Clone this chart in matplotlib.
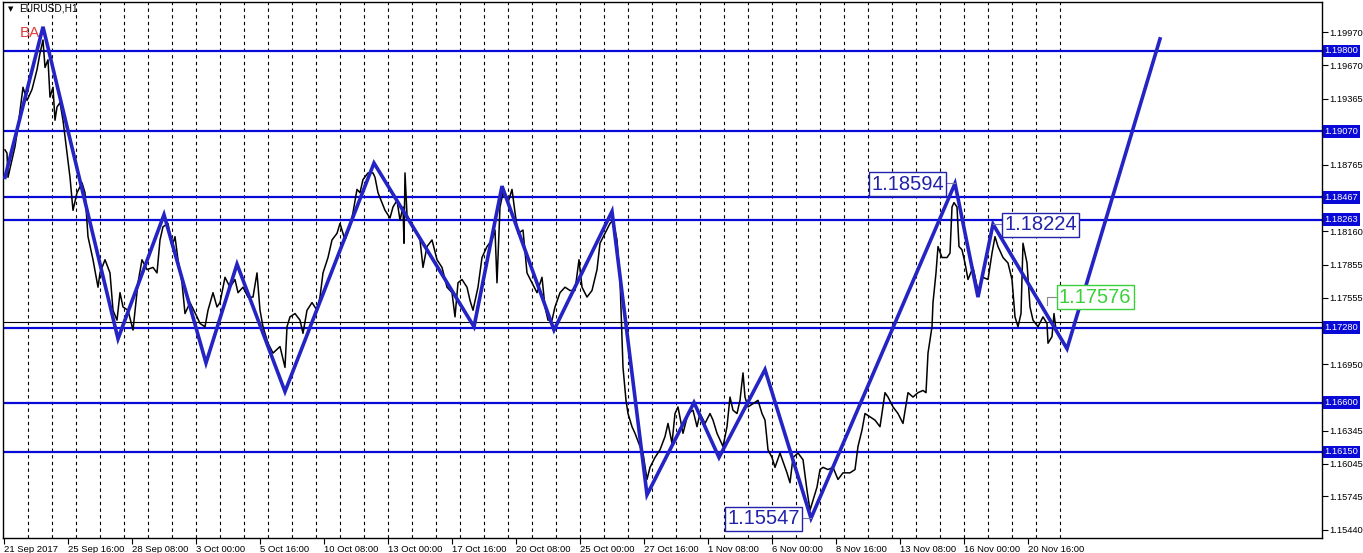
import matplotlib
matplotlib.use("Agg")
import matplotlib.pyplot as plt
import matplotlib.transforms as mtransforms

# ---------------------------------------------------------------------------
# data (x = hourly bar index from 21 Sep 2017)
# ---------------------------------------------------------------------------
price_bars = [
    1, 3, 4, 11, 14, 19, 23, 28, 33, 36, 39, 41, 44, 46, 49, 51, 53, 56, 59, 63,
    66, 69, 73, 78, 81, 84, 89, 94, 96, 101, 106, 109, 113, 116, 119, 124, 129, 134, 138, 143,
    149, 153, 156, 159, 164, 168, 171, 174, 178, 181, 186, 193, 196, 201, 204, 209, 213, 216, 221, 226,
    231, 234, 239, 244, 249, 253, 256,
    259, 264, 269, 276, 281, 283, 286, 291, 296, 299, 303, 308, 313, 316, 319, 324, 328, 333, 336, 341,
    346, 349, 353, 356, 359, 364, 369, 371, 374, 378, 381, 386, 389, 393, 396, 399, 400, 401, 403, 408,
    411, 416, 419, 423, 428, 433, 438, 443, 448, 451, 454, 458, 463, 466, 469, 474, 478, 483, 488, 491,
    493, 496, 499, 504, 508, 511, 514, 519, 523, 528, 533, 538, 541, 544,
    548, 551, 556, 561, 566, 571, 575, 578, 583, 588, 593, 596, 601, 606, 609, 613, 616, 618, 619, 622,
    624, 628, 631, 636, 639, 643, 646, 651, 656, 661, 664, 668, 671, 674, 679, 684, 689, 693, 696, 701,
    706, 709, 713, 716, 719, 723, 726, 729, 733, 736, 739, 741, 744, 749, 754, 758, 761, 764, 768, 771,
    776, 783, 786, 789, 794, 799,
    803, 806, 809, 813, 816, 819, 824, 829, 834, 839, 846, 851, 854, 858, 861, 866, 871, 876, 881, 884,
    889, 894, 899, 904, 909, 914, 919, 922, 924, 928, 929, 932, 934, 938, 943, 946, 948, 950, 953, 955,
    958, 961, 964, 969, 974, 979, 984, 988, 991, 994, 999, 1004, 1008, 1011, 1014, 1017, 1019, 1023, 1026, 1029,
    1034, 1039, 1043, 1044, 1048, 1050, 1052,
]
price_close = [
    1.1890, 1.1887, 1.1865, 1.1893, 1.1911, 1.1947, 1.1935, 1.1945, 1.1963, 1.1978, 1.1990, 1.1965, 1.1972, 1.1938, 1.1947, 1.1917, 1.1929, 1.1933, 1.1917, 1.1887,
    1.1865, 1.1835, 1.1851, 1.1860, 1.1851, 1.1811, 1.1790, 1.1765, 1.1778, 1.1790, 1.1778, 1.1744, 1.1735, 1.1760, 1.1747, 1.1744, 1.1726, 1.1769, 1.1790, 1.1781,
    1.1783, 1.1778, 1.1808, 1.1820, 1.1823, 1.1802, 1.1811, 1.1790, 1.1769, 1.1741, 1.1751, 1.1738, 1.1732, 1.1729, 1.1744, 1.1760, 1.1747, 1.1751, 1.1774, 1.1765,
    1.1772, 1.1760, 1.1765, 1.1756, 1.1756, 1.1778, 1.1744,
    1.1729, 1.1714, 1.1705, 1.1711, 1.1692, 1.1729, 1.1738, 1.1741, 1.1735, 1.1723, 1.1744, 1.1751, 1.1744, 1.1756, 1.1778, 1.1792, 1.1808, 1.1814, 1.1823, 1.1808,
    1.1820, 1.1833, 1.1854, 1.1851, 1.1863, 1.1869, 1.1869, 1.1865, 1.1851, 1.1842, 1.1835, 1.1828, 1.1838, 1.1844, 1.1826, 1.1838, 1.1805, 1.1869, 1.1831, 1.1820,
    1.1817, 1.1808, 1.1783, 1.1802, 1.1808, 1.1790, 1.1783, 1.1765, 1.1760, 1.1738, 1.1769, 1.1772, 1.1765, 1.1753, 1.1744, 1.1765, 1.1792, 1.1802, 1.1808, 1.1817,
    1.1769, 1.1838, 1.1851, 1.1842, 1.1854, 1.1833, 1.1814, 1.1817, 1.1778, 1.1769, 1.1760, 1.1774, 1.1747, 1.1735,
    1.1735, 1.1747, 1.1760, 1.1765, 1.1762, 1.1762, 1.1790, 1.1765, 1.1756, 1.1762, 1.1781, 1.1805, 1.1814, 1.1823, 1.1826, 1.1808, 1.1772, 1.1717, 1.1692, 1.1662,
    1.1650, 1.1638, 1.1632, 1.1620, 1.1614, 1.1590, 1.1601, 1.1610, 1.1617, 1.1629, 1.1641, 1.1623, 1.1650, 1.1656, 1.1632, 1.1650, 1.1653, 1.1638, 1.1650, 1.1641,
    1.1650, 1.1644, 1.1632, 1.1626, 1.1620, 1.1638, 1.1665, 1.1653, 1.1650, 1.1662, 1.1687, 1.1665, 1.1656, 1.1659, 1.1662, 1.1650, 1.1644, 1.1617, 1.1610, 1.1601,
    1.1614, 1.1596, 1.1587, 1.1610, 1.1614, 1.1608,
    1.1580, 1.1562, 1.1571, 1.1583, 1.1599, 1.1601, 1.1599, 1.1601, 1.1590, 1.1596, 1.1596, 1.1599, 1.1620, 1.1635, 1.1650, 1.1647, 1.1644, 1.1638, 1.1669, 1.1665,
    1.1656, 1.1650, 1.1641, 1.1669, 1.1665, 1.1669, 1.1671, 1.1669, 1.1705, 1.1729, 1.1751, 1.1778, 1.1802, 1.1792, 1.1792, 1.1796, 1.1838, 1.1842, 1.1838, 1.1802,
    1.1799, 1.1787, 1.1772, 1.1783, 1.1762, 1.1774, 1.1772, 1.1796, 1.1811, 1.1802, 1.1792, 1.1787, 1.1772, 1.1738, 1.1729, 1.1741, 1.1805, 1.1787, 1.1747, 1.1735,
    1.1729, 1.1738, 1.1732, 1.1714, 1.1720, 1.1741, 1.1726,
]

# hand-drawn zigzag (last leg is the projection)
zigzag_bars = [1, 39, 114, 160, 202, 233, 281, 370, 470, 498, 550, 608, 643, 690, 715,
               761, 807, 951, 974, 989, 1063, 1156]
zigzag_price = [1.1865, 1.2002, 1.1718, 1.1831, 1.1696, 1.1786, 1.1670, 1.1878, 1.1729, 1.1857,
                1.1726, 1.1834, 1.1576, 1.1660, 1.1610, 1.1690, 1.15547, 1.18594, 1.1756,
                1.18224, 1.1709, 1.1991]

levels = [1.19800, 1.19070, 1.18467, 1.18263, 1.17280, 1.16600, 1.16150]
bid_price = 1.1733

ytick_values = [1.19970, 1.19670, 1.19365, 1.18765, 1.18160, 1.17855,
                1.17555, 1.16950, 1.16345, 1.16045, 1.15745, 1.15440]

date_bars = [0, 64, 128, 192, 256, 320, 384, 448, 512, 576, 640, 704, 768, 832, 896, 960, 1024]
date_labels = ["21 Sep 2017", "25 Sep 16:00", "28 Sep 08:00", "3 Oct 00:00", "5 Oct 16:00",
               "10 Oct 08:00", "13 Oct 00:00", "17 Oct 16:00", "20 Oct 08:00", "25 Oct 00:00",
               "27 Oct 16:00", "1 Nov 08:00", "6 Nov 00:00", "8 Nov 16:00", "13 Nov 08:00",
               "16 Nov 00:00", "20 Nov 16:00"]
day_bars = list(range(24, 1057, 24))

# price tags: (value, bar of the point, tag side)
tag_values = ["1.18594", "1.18224", "1.15547"]
tag_bars = [951, 989, 807]
tag_sides = ["left", "right", "left"]

LEVEL_BLUE = "#0a0ad8"
ZZ_BLUE = "#2424c4"
FONT = ["Liberation Sans", "DejaVu Sans"]

plt.rcParams["font.family"] = FONT

fig = plt.figure(figsize=(13.63, 5.53), dpi=100)
ax = fig.add_axes([3 / 1363, 15 / 553, 1319 / 1363, 536 / 553])
ax.set_xlim(-1, 1318)
ax.set_ylim(1.15367, 1.20246)

# day separators
for b in day_bars:
    ax.axvline(b, color="black", lw=0.8, ls=(0, (3, 3)), zorder=1)

ax.axhline(bid_price, color="black", lw=0.8, zorder=2)
for lv in levels:
    ax.axhline(lv, color=LEVEL_BLUE, lw=1.6, zorder=2)

ax.plot(price_bars, price_close, color="black", lw=1.1, zorder=3)
ax.plot(zigzag_bars, zigzag_price, color=ZZ_BLUE, lw=2.6, zorder=4,
        solid_joinstyle="miter")

# price tags
for val, b, side in zip(tag_values, tag_bars, tag_sides):
    p = float(val)
    if side == "left":
        x_txt, ha = b - 11, "right"
        ax.plot([b - 11, b], [p, p], color="#7777aa", lw=0.8, zorder=4)
    else:
        x_txt, ha = b + 11, "left"
        ax.plot([b, b + 11], [p, p], color="#7777aa", lw=0.8, zorder=4)
    ax.text(x_txt, p - 0.00005, val, ha=ha, va="center", fontsize=14.5, color="#2222aa",
            zorder=6,
            bbox=dict(boxstyle="square,pad=0.12", fc="white", ec="#2222aa", lw=1.0))

# green last-price tag
ax.plot([1043, 1043, 1054], [1.1749, 1.1756, 1.1756], color="#888888", lw=0.8, zorder=4)
ax.text(1055, 1.1756, "1.17576", ha="left", va="center", fontsize=14.5, color="#3ad03a",
        zorder=6,
        bbox=dict(boxstyle="square,pad=0.12", fc="white", ec="#3ad03a", lw=1.0))

# chart header
ax.text(4, 1.20185, "\u25bc", fontsize=5, color="black", ha="left", va="center",
        family="DejaVu Sans")
ax.text(15, 1.20185, "EURUSD,H1", fontsize=7.3, color="black", ha="left", va="center")
ax.text(16, 1.1996, "BA", fontsize=11, color="#e03c3c", ha="left", va="center", zorder=3)

# right price scale
ax.yaxis.tick_right()
ax.set_yticks(ytick_values)
ax.set_yticklabels([f"{v:.5f}" for v in ytick_values])
ax.tick_params(axis="y", direction="out", length=4, width=0.8, labelsize=6.7, pad=1.5)
trans = mtransforms.blended_transform_factory(ax.transAxes, ax.transData)
for lv in levels:
    ax.text(1.002, lv, f"{lv:.5f}", transform=trans, ha="left", va="center",
            fontsize=6.7, color="white", zorder=7, clip_on=False,
            bbox=dict(boxstyle="square,pad=0.2", fc=LEVEL_BLUE, ec=LEVEL_BLUE, lw=0))

# time scale
ax.set_xticks(date_bars)
ax.set_xticklabels(date_labels, ha="left")
ax.tick_params(axis="x", direction="out", length=4, width=0.8, labelsize=6.8, pad=1)

for s in ax.spines.values():
    s.set_linewidth(1.0)
    s.set_color("black")

fig.savefig("out.png", dpi=100, facecolor="white")
